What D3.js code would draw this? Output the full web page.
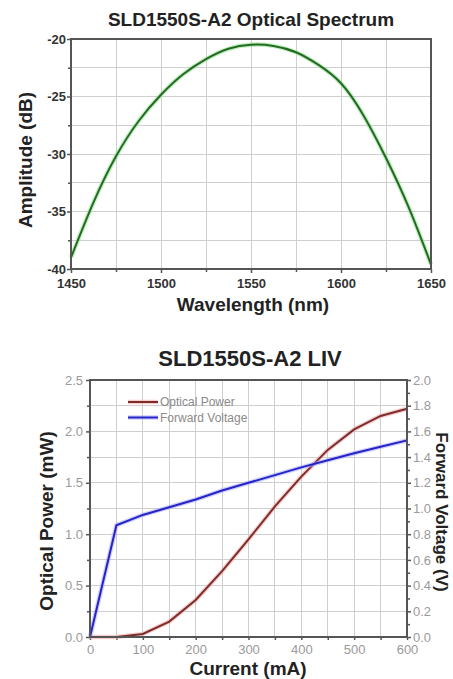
<!DOCTYPE html>
<html>
<head>
<meta charset="utf-8">
<script src="https://cdn.jsdelivr.net/npm/d3@7"></script>
<style>
body{margin:0;background:#fff;}
svg{display:block;font-family:"Liberation Sans",Arial,sans-serif;}
</style>
</head>
<body>
<script>
// spectrum (top chart)
var wavelengths = [1450,1462.5,1475,1487.5,1500,1512.5,1525,1537.5,1550,1562.5,1575,1587.5,1600,1612.5,1625,1637.5,1650];
var amplitudes = [-39.0,-34.2,-30.2,-27.15,-24.85,-23.05,-21.75,-20.85,-20.5,-20.6,-21.15,-22.25,-23.85,-26.65,-30.35,-34.6,-39.6];
var spectrumXTicks = [1450,1500,1550,1600,1650];
var spectrumYTicks = [-20,-25,-30,-35,-40];

// LIV (bottom chart)
var currents = [0,50,100,150,200,250,300,350,400,450,500,550,600];
var opticalPower = [0,0,0.03,0.15,0.36,0.64,0.95,1.27,1.56,1.82,2.02,2.15,2.22];
var forwardVoltage = [0,0.87,0.95,1.01,1.07,1.14,1.20,1.26,1.32,1.375,1.43,1.48,1.53];
var livXTicks = [0,100,200,300,400,500,600];
var powerTicks = [0,0.5,1.0,1.5,2.0,2.5];
var voltageTicks = [0,0.2,0.4,0.6,0.8,1.0,1.2,1.4,1.6,1.8,2.0];
var legendNames = ['Optical Power','Forward Voltage'];

var W = 453, H = 679;
var gridColor = '#cfcfcf', frameColor = '#555';

var svg = d3.select('body').append('svg').attr('width',W).attr('height',H);

var drawGrid = function(g,x,y,xs,ys){
	var gg = g.append('g').attr('shape-rendering','crispEdges');
	gg.selectAll('line.gx').data(xs).enter().append('line').attr('class','gx')
		.attr('x1',x).attr('x2',x).attr('y1',y.range()[0]).attr('y2',y.range()[1])
		.attr('stroke',gridColor).attr('stroke-width',1);
	gg.selectAll('line.gy').data(ys).enter().append('line').attr('class','gy')
		.attr('y1',y).attr('y2',y).attr('x1',x.range()[0]).attr('x2',x.range()[1])
		.attr('stroke',gridColor).attr('stroke-width',1);
};

var styleAxis = function(g,color,weight,size){
	g.select('.domain').remove();
	g.selectAll('.tick line').attr('stroke',frameColor).attr('stroke-width',1.5);
	g.selectAll('.tick text').attr('fill',color).attr('font-weight',weight)
		.attr('font-size',size).attr('font-family','"Liberation Sans",Arial,sans-serif');
};

var frame = function(g,x,y){
	g.append('rect').attr('x',x.range()[0]).attr('y',y.range()[1])
		.attr('width',x.range()[1]-x.range()[0]).attr('height',y.range()[0]-y.range()[1])
		.attr('fill','none').attr('stroke',frameColor).attr('stroke-width',2);
};

var glowLine = function(g,pts,line,glow,core){
	g.append('path').datum(pts).attr('d',line).attr('fill','none')
		.attr('stroke',glow).attr('stroke-width',4.5).attr('stroke-opacity',0.55);
	g.append('path').datum(pts).attr('d',line).attr('fill','none')
		.attr('stroke',core).attr('stroke-width',2);
};

var plain = function(d){return String(d);};

// ---------- top chart ----------
(function(){
	var x = d3.scaleLinear().domain([1450,1650]).range([71,431]);
	var y = d3.scaleLinear().domain([-40,-20]).range([269,39]);
	var g = svg.append('g');

	drawGrid(g,x,y,d3.range(1475,1650,25),d3.range(-37.5,-20,2.5));

	var pts = wavelengths.map(function(d,i){return [d,amplitudes[i]];});
	var line = d3.line().x(function(d){return x(d[0]);}).y(function(d){return y(d[1]);})
		.curve(d3.curveNatural);
	glowLine(g,pts,line,'#8ee08e','#236b23');

	// minor ticks
	g.append('g').attr('transform','translate(0,269)')
		.call(d3.axisBottom(x).tickValues(d3.range(1475,1650,50)).tickSize(3).tickFormat(''))
		.call(styleAxis,'#333','bold',13);
	g.append('g').attr('transform','translate(71,0)')
		.call(d3.axisLeft(y).tickValues(d3.range(-37.5,-20,5)).tickSize(3).tickFormat(''))
		.call(styleAxis,'#333','bold',13);

	g.append('g').attr('transform','translate(0,269)')
		.call(d3.axisBottom(x).tickValues(spectrumXTicks).tickSize(4).tickPadding(6).tickFormat(plain))
		.call(styleAxis,'#333','bold',13);
	g.append('g').attr('transform','translate(71,0)')
		.call(d3.axisLeft(y).tickValues(spectrumYTicks).tickSize(4).tickPadding(1).tickFormat(plain))
		.call(styleAxis,'#333','bold',13);

	frame(g,x,y);

	g.append('text').attr('x',251).attr('y',26).attr('text-anchor','middle')
		.attr('font-weight','bold').attr('font-size',19).attr('fill','#222')
		.text('SLD1550S-A2 Optical Spectrum');
	g.append('text').attr('x',253).attr('y',311).attr('text-anchor','middle')
		.attr('font-weight','bold').attr('font-size',19).attr('fill','#222')
		.text('Wavelength (nm)');
	g.append('text').attr('transform','translate(32,160) rotate(-90)').attr('text-anchor','middle')
		.attr('font-weight','bold').attr('font-size',19).attr('fill','#222')
		.text('Amplitude (dB)');
})();

// ---------- bottom chart ----------
(function(){
	var x = d3.scaleLinear().domain([0,600]).range([90,407]);
	var yP = d3.scaleLinear().domain([0,2.5]).range([637,380]);
	var yV = d3.scaleLinear().domain([0,2.0]).range([637,380]);
	var g = svg.append('g');
	var tickGray = '#9a9a9a';

	drawGrid(g,x,yP,d3.range(50,600,50),d3.range(0.25,2.5,0.25));

	// ticks
	g.append('g').attr('transform','translate(0,637)')
		.call(d3.axisBottom(x).tickValues(d3.range(50,600,100)).tickSize(3).tickFormat(''))
		.call(styleAxis,tickGray,'normal',13);
	g.append('g').attr('transform','translate(0,637)')
		.call(d3.axisBottom(x).tickValues(livXTicks).tickSize(3).tickPadding(5).tickFormat(d3.format('d')))
		.call(styleAxis,tickGray,'normal',13);
	g.append('g').attr('transform','translate(90,0)')
		.call(d3.axisLeft(yP).tickValues(d3.range(0.25,2.5,0.5)).tickSize(3).tickFormat(''))
		.call(styleAxis,tickGray,'normal',13);
	g.append('g').attr('transform','translate(90,0)')
		.call(d3.axisLeft(yP).tickValues(powerTicks).tickSize(4).tickPadding(3).tickFormat(d3.format('.1f')))
		.call(styleAxis,tickGray,'normal',13);
	g.append('g').attr('transform','translate(407,0)')
		.call(d3.axisRight(yV).tickValues(d3.range(0.1,2.0,0.2)).tickSize(3).tickFormat(''))
		.call(styleAxis,tickGray,'normal',13);
	g.append('g').attr('transform','translate(407,0)')
		.call(d3.axisRight(yV).tickValues(voltageTicks).tickSize(4).tickPadding(2).tickFormat(d3.format('.1f')))
		.call(styleAxis,tickGray,'normal',13);

	var pPts = currents.map(function(d,i){return [d,opticalPower[i]];});
	var vPts = currents.map(function(d,i){return [d,forwardVoltage[i]];});
	var pLine = d3.line().x(function(d){return x(d[0]);}).y(function(d){return yP(d[1]);});
	var vLine = d3.line().x(function(d){return x(d[0]);}).y(function(d){return yV(d[1]);});
	glowLine(g,pPts,pLine,'#f0a8a8','#7d2c2c');
	glowLine(g,vPts,vLine,'#a8a8f8','#2424c8');

	frame(g,x,yP);

	// legend
	var legColors = [['#f0a8a8','#7d2c2c'],['#a8a8f8','#2424c8']];
	var leg = g.selectAll('g.leg').data(legendNames).enter().append('g')
		.attr('transform',function(d,i){return 'translate(128,'+(402+i*15.5)+')';});
	leg.append('line').attr('x1',0).attr('x2',30).attr('y1',0).attr('y2',0)
		.attr('stroke',function(d,i){return legColors[i][0];}).attr('stroke-width',4.5).attr('stroke-opacity',0.55);
	leg.append('line').attr('x1',0).attr('x2',30).attr('y1',0).attr('y2',0)
		.attr('stroke',function(d,i){return legColors[i][1];}).attr('stroke-width',2);
	leg.append('text').attr('x',32).attr('y',4).attr('font-size',12).attr('fill','#8a8a8a')
		.text(function(d){return d;});

	g.append('text').attr('x',250).attr('y',366).attr('text-anchor','middle')
		.attr('font-weight','bold').attr('font-size',22).attr('fill','#222')
		.text('SLD1550S-A2 LIV');
	g.append('text').attr('x',248).attr('y',675).attr('text-anchor','middle')
		.attr('font-weight','bold').attr('font-size',19).attr('fill','#222')
		.text('Current (mA)');
	g.append('text').attr('transform','translate(53,521) rotate(-90)').attr('text-anchor','middle')
		.attr('font-weight','bold').attr('font-size',19).attr('fill','#222')
		.text('Optical Power (mW)');
	g.append('text').attr('transform','translate(436,512) rotate(90)').attr('text-anchor','middle')
		.attr('font-weight','bold').attr('font-size',17).attr('fill','#222')
		.text('Forward Voltage (V)');
})();
</script>
</body>
</html>
